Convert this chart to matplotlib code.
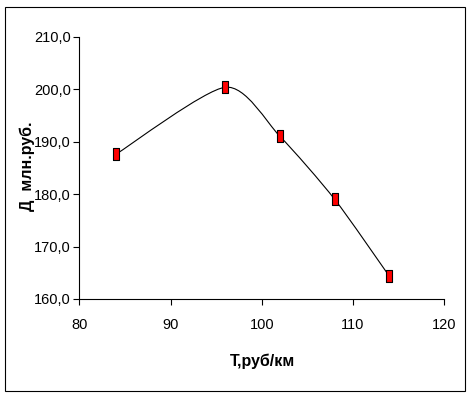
import numpy as np
import matplotlib.pyplot as plt
from matplotlib.path import Path
from matplotlib.patches import PathPatch, Rectangle

# data
tariff = [84, 96, 102, 108, 114]
income = [187.6, 200.4, 191.0, 179.0, 164.3]
x_ticks = [80, 90, 100, 110, 120]
y_ticks = [160, 170, 180, 190, 200, 210]

plt.rcParams['font.family'] = ['Liberation Sans', 'DejaVu Sans']

fig = plt.figure(figsize=(4.7, 3.97), dpi=100)
ax = fig.add_axes([0.169, 0.247, 0.776, 0.660])

# smoothed line like Excel: cubic bezier segments through the points
pts = np.column_stack([tariff, income]).astype(float)
verts = [pts[0]]
codes = [Path.MOVETO]
n = len(pts)
for i in range(n - 1):
    p0 = pts[i - 1] if i > 0 else pts[i]
    p1 = pts[i]
    p2 = pts[i + 1]
    p3 = pts[i + 2] if i + 2 < n else pts[i + 1]
    verts += [p1 + (p2 - p0) / 8, p2 - (p3 - p1) / 8, p2]
    codes += [Path.CURVE4] * 3
ax.add_patch(PathPatch(Path(verts, codes), facecolor='none', edgecolor='black', lw=0.8))

rect_marker = [(-0.6, -1), (0.6, -1), (0.6, 1), (-0.6, 1), (-0.6, -1)]
ax.plot(tariff, income, linestyle='none', marker=rect_marker, markersize=8,
        markerfacecolor='#ff0000', markeredgecolor='black', markeredgewidth=0.8)

ax.set_xlim(80, 120)
ax.set_ylim(160, 210)
ax.set_xticks(x_ticks)
ax.set_yticks(y_ticks)
ax.set_xticklabels([str(v) for v in x_ticks])
ax.set_yticklabels([f"{v},0" for v in y_ticks])
ax.tick_params(direction='out', length=4, width=0.8, labelsize=10.5, pad=2)
ax.tick_params(axis='x', pad=10)
for s in ['top', 'right']:
    ax.spines[s].set_visible(False)
for s in ['left', 'bottom']:
    ax.spines[s].set_linewidth(0.8)

fig.text(263 / 470, 1 - 361 / 397, 'Т,руб/км', fontsize=11.5, fontweight='bold',
         ha='center', va='center')
fig.text(27 / 470, 1 - 166 / 397, 'Д  млн.руб.', fontsize=11.5, fontweight='bold',
         rotation=90, ha='center', va='center')

fig.patches.append(Rectangle((5 / 470, 6 / 397), 460 / 470, 384 / 397, transform=fig.transFigure,
                             fill=False, edgecolor='black', lw=0.8))

fig.savefig('out.png', dpi=100)
